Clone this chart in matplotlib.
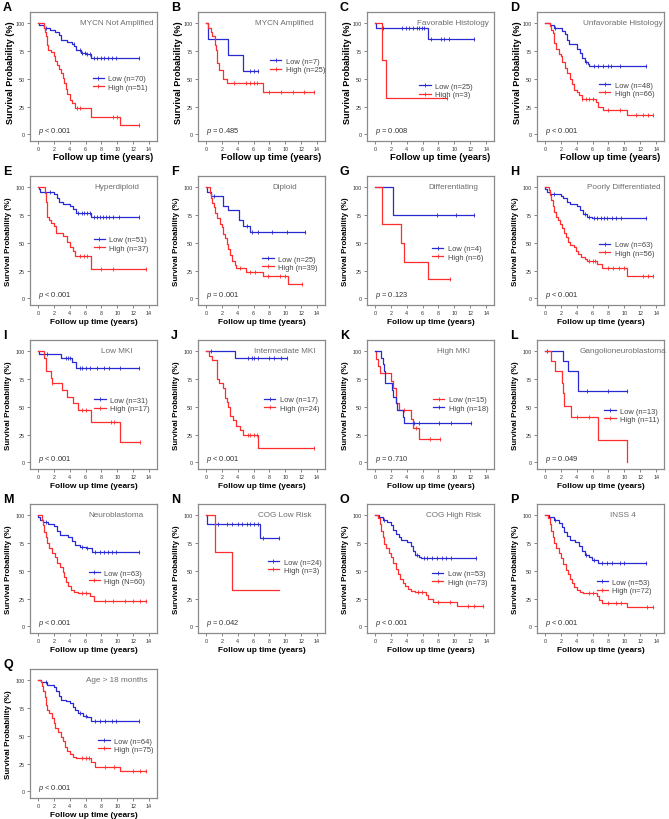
import matplotlib
matplotlib.use("Agg")
import matplotlib.pyplot as plt
import numpy as np
from matplotlib.lines import Line2D

plt.rcParams["font.family"] = ["Liberation Sans", "DejaVu Sans"]
plt.rcParams["mathtext.fontset"] = "custom"
plt.rcParams["mathtext.it"] = "Liberation Sans:italic"
plt.rcParams["mathtext.rm"] = "Liberation Sans"

# Kaplan-Meier step curves: (time in years, survival %) after each drop
a_low = [(0, 100), (0.1, 98), (0.8, 96), (1.5, 94), (2.2, 92), (2.6, 89), (2.9, 85), (3.6, 83), (4.3, 81),
         (4.6, 79), (4.8, 76), (5.4, 73), (6.1, 72), (6.7, 69), (12.7, 69)]
a_low_cens = [1.0, 4.5, 5.3, 5.6, 5.9, 6.2, 6.5, 7.1, 7.5, 7.9, 8.3, 8.8, 9.3, 9.8, 12.7]
a_high = [(0, 100), (0.8, 96), (0.9, 92), (1.0, 88), (1.1, 84), (1.2, 80), (1.3, 76), (1.7, 74), (2.0, 70),
          (2.2, 66), (2.4, 62), (2.6, 59), (2.9, 55), (3.1, 51), (3.3, 46), (3.5, 41), (3.7, 36), (4.0, 31),
          (4.3, 28), (4.7, 24), (6.7, 16), (10.4, 8), (12.7, 8)]
a_high_cens = [4.9, 5.3, 9.5, 9.9, 12.7]

b_low = [(0, 100), (0.25, 86), (2.8, 71), (4.7, 57), (6.6, 57)]
b_low_cens = [5.5, 6.0, 6.6]
b_high = [(0, 100), (0.3, 96), (0.6, 92), (0.8, 88), (1.1, 80), (1.3, 76), (1.4, 64), (1.6, 58), (2.1, 50),
          (2.6, 46), (7.2, 38), (13.6, 38)]
b_high_cens = [3.5, 5.1, 5.6, 6.0, 6.4, 8.0, 9.5, 11.0, 12.3, 13.6]

c_low = [(0, 100), (0.1, 96), (6.7, 86), (12.5, 86)]
c_low_cens = [1.0, 3.4, 3.9, 4.3, 4.8, 5.3, 5.6, 5.9, 6.2, 7.1, 8.3, 8.7, 9.3, 12.5]
c_high = [(0, 100), (0.9, 67), (1.4, 33), (9.1, 33)]
c_high_cens = [9.1]

d_low = [(0, 100), (0.6, 98), (1.2, 96), (2.2, 93), (2.5, 90), (2.8, 85), (3.0, 81), (4.1, 77), (4.4, 73),
         (4.7, 69), (5.0, 65), (5.4, 63), (5.6, 61), (12.7, 61)]
d_low_cens = [1.3, 5.2, 6.2, 6.7, 7.3, 7.9, 8.3, 9.5, 12.7]
d_high = [(0, 100), (0.6, 97), (0.8, 94), (1.0, 91), (1.1, 88), (1.2, 82), (1.4, 77), (1.8, 72), (2.0, 70),
          (2.2, 65), (2.5, 60), (2.8, 55), (3.1, 50), (3.4, 45), (3.7, 40), (4.0, 38), (4.3, 35), (4.7, 32),
          (6.4, 29), (6.7, 25), (7.3, 22), (10.4, 17), (13.6, 17)]
d_high_cens = [4.7, 5.2, 5.6, 6.0, 8.0, 9.5, 11.5, 12.3, 13.0, 13.6]

e_low = [(0, 100), (0.1, 98), (0.3, 96), (2.0, 94), (2.4, 90), (2.7, 87), (3.2, 85), (4.0, 83), (4.4, 80),
         (4.8, 77), (6.7, 73), (12.7, 73)]
e_low_cens = [1.5, 5.0, 5.5, 5.8, 6.2, 6.5, 7.0, 7.4, 7.8, 8.2, 8.6, 9.0, 9.5, 10.2, 12.7]
e_high = [(0, 100), (0.9, 95), (1.0, 87), (1.1, 79), (1.2, 73), (1.4, 70), (1.6, 68), (2.0, 65), (2.3, 59),
          (3.1, 56), (3.6, 51), (4.0, 46), (4.4, 43), (4.7, 38), (6.7, 26), (13.6, 26)]
e_high_cens = [5.3, 5.8, 6.2, 8.0, 9.5, 13.6]

f_low = [(0, 100), (0.1, 96), (0.6, 92), (2.2, 83), (2.8, 79), (4.2, 70), (4.7, 65), (5.6, 60), (12.5, 60)]
f_low_cens = [1.0, 5.2, 5.8, 6.5, 8.3, 10.2, 12.5]
f_high = [(0, 100), (0.5, 95), (0.6, 90), (0.8, 86), (1.0, 82), (1.2, 77), (1.4, 72), (1.8, 67), (2.0, 64),
          (2.2, 58), (2.4, 54), (2.6, 49), (2.8, 44), (3.0, 39), (3.3, 34), (3.6, 30), (3.8, 27), (5.0, 24),
          (7.2, 20), (10.4, 13), (12.1, 13)]
f_high_cens = [4.3, 5.6, 6.2, 7.8, 9.3, 9.9, 12.1]

g_low = [(0, 100), (2.3, 75), (12.5, 75)]
g_low_cens = [7.8, 10.2, 12.5]
g_high = [(0, 100), (0.9, 67), (3.3, 50), (3.6, 33), (6.7, 17), (9.5, 17)]
g_high_cens = [9.5]

h_low = [(0, 100), (0.05, 98), (0.2, 96), (0.6, 94), (2.0, 92), (2.3, 90), (2.8, 87), (3.2, 85), (4.1, 83),
         (4.4, 79), (4.8, 76), (5.3, 73), (5.9, 72), (12.7, 72)]
h_low_cens = [1.2, 5.1, 5.5, 6.2, 6.6, 7.0, 7.4, 7.8, 8.5, 9.0, 9.6, 12.7]
h_high = [(0, 100), (0.5, 97), (0.6, 93), (0.8, 88), (1.0, 83), (1.2, 78), (1.4, 73), (1.6, 70), (1.9, 67),
          (2.1, 63), (2.4, 59), (2.6, 55), (2.9, 51), (3.2, 48), (3.6, 46), (3.9, 43), (4.2, 40), (4.6, 37),
          (5.0, 35), (5.3, 34), (6.6, 31), (7.2, 27), (10.4, 20), (13.6, 20)]
h_high_cens = [5.6, 6.0, 6.3, 8.0, 8.6, 9.3, 9.9, 12.3, 13.0, 13.6]

i_low = [(0, 100), (0.1, 97), (2.9, 94), (4.3, 90), (4.8, 85), (12.7, 85)]
i_low_cens = [1.2, 3.5, 3.8, 4.0, 5.3, 5.6, 6.1, 6.6, 7.4, 8.3, 9.0, 10.4, 12.7]
i_high = [(0, 100), (0.8, 94), (1.0, 82), (1.6, 76), (1.8, 71), (3.0, 65), (3.6, 59), (4.4, 53), (5.0, 47),
          (6.7, 36), (10.4, 18), (12.8, 18)]
i_high_cens = [1.8, 5.5, 6.0, 9.2, 9.6, 12.8]

j_low = [(0, 100), (3.6, 94), (10.2, 94)]
j_low_cens = [0.6, 5.3, 5.8, 6.1, 6.6, 8.0, 8.6, 9.5, 10.2]
j_high = [(0, 100), (0.4, 96), (0.8, 92), (1.4, 75), (1.6, 71), (2.2, 67), (2.4, 58), (2.6, 54), (2.8, 50),
          (3.0, 42), (3.4, 38), (3.8, 33), (4.3, 29), (4.7, 25), (6.6, 13), (13.6, 13)]
j_high_cens = [5.3, 5.6, 6.0, 6.4, 13.6]

k_low = [(0, 100), (0.1, 93), (0.4, 87), (0.6, 80), (2.0, 73), (2.3, 67), (2.6, 60), (2.7, 53), (3.0, 47),
         (4.6, 39), (4.8, 31), (5.6, 21), (8.2, 21)]
k_low_cens = [3.7, 5.2, 6.9, 8.2]
k_high = [(0, 100), (0.8, 94), (1.0, 88), (1.1, 82), (1.3, 71), (2.1, 65), (2.3, 59), (2.6, 53), (2.8, 47),
          (3.5, 41), (3.7, 35), (12.1, 35)]
k_high_cens = [4.9, 5.6, 8.1, 9.6, 12.1]

l_low = [(0, 100), (2.3, 91), (2.9, 82), (4.2, 64), (10.4, 64)]
l_low_cens = [0.2, 5.3, 8.0, 10.4]
l_high = [(0, 100), (0.8, 91), (1.3, 82), (2.2, 71), (2.3, 62), (2.4, 51), (3.3, 41), (6.7, 20), (10.4, 0)]
l_high_cens = [4.0, 5.5]

m_low = [(0, 100), (0.05, 98), (0.2, 96), (0.6, 94), (1.3, 92), (2.0, 90), (2.4, 86), (2.8, 82), (3.8, 80),
         (4.3, 77), (4.7, 73), (5.3, 71), (6.0, 70), (6.8, 67), (12.7, 67)]
m_low_cens = [1.0, 5.5, 6.2, 7.2, 7.8, 8.3, 8.8, 9.3, 9.8, 12.7]
m_high = [(0, 100), (0.5, 96), (0.6, 91), (0.8, 85), (1.0, 80), (1.2, 75), (1.4, 70), (1.8, 66), (2.1, 62),
          (2.4, 57), (2.8, 53), (3.1, 49), (3.3, 44), (3.5, 40), (3.8, 36), (4.2, 33), (4.6, 31), (5.0, 30),
          (6.6, 27), (7.0, 23), (13.6, 23)]
m_high_cens = [5.6, 6.1, 8.5, 9.5, 11.0, 12.0, 12.8, 13.6]

n_low = [(0, 100), (0.1, 92), (6.8, 79), (9.2, 79)]
n_low_cens = [1.5, 2.7, 3.3, 4.0, 4.6, 5.2, 5.6, 6.1, 6.5, 7.2, 9.2]
n_high = [(0, 100), (1.2, 67), (3.3, 33), (9.2, 33)]
n_high_cens = []

o_low = [(0, 100), (0.5, 98), (1.0, 96), (1.5, 94), (2.0, 91), (2.3, 87), (2.7, 83), (3.0, 80), (3.3, 78),
         (4.0, 76), (4.5, 72), (4.8, 68), (5.1, 64), (5.6, 62), (5.8, 61), (12.7, 61)]
o_low_cens = [1.2, 5.3, 6.2, 6.6, 7.2, 7.8, 8.4, 9.0, 9.6, 12.7]
o_high = [(0, 100), (0.4, 97), (0.6, 92), (0.8, 86), (1.0, 80), (1.2, 74), (1.4, 70), (1.8, 66), (2.0, 62),
          (2.3, 57), (2.6, 52), (2.9, 47), (3.2, 43), (3.5, 39), (3.8, 36), (4.2, 34), (4.6, 32), (5.0, 31),
          (6.4, 28), (6.7, 25), (7.3, 22), (10.4, 18), (13.6, 18)]
o_high_cens = [5.4, 5.9, 8.0, 9.5, 11.7, 12.5, 13.6]

p_low = [(0, 100), (0.5, 98), (1.2, 96), (1.8, 93), (2.1, 89), (2.4, 85), (2.8, 81), (3.2, 78), (3.8, 76),
         (4.3, 72), (4.7, 68), (5.0, 64), (5.5, 62), (5.9, 60), (6.7, 57), (12.7, 57)]
p_low_cens = [1.3, 5.2, 6.2, 7.2, 7.8, 8.4, 9.4, 9.9, 12.7]
p_high = [(0, 100), (0.4, 97), (0.6, 92), (0.8, 86), (1.0, 80), (1.2, 75), (1.4, 70), (1.8, 66), (2.0, 61),
          (2.3, 56), (2.6, 51), (2.9, 47), (3.2, 43), (3.4, 39), (3.7, 35), (4.0, 33), (4.4, 31), (4.8, 30),
          (6.5, 27), (6.8, 24), (7.2, 21), (10.4, 17), (13.6, 17)]
p_high_cens = [5.6, 6.0, 8.0, 9.0, 9.6, 12.8, 13.6]

q_low = [(0, 100), (0.4, 98), (1.2, 96), (2.0, 94), (2.3, 90), (2.6, 86), (2.9, 82), (3.5, 81), (4.1, 79),
         (4.4, 76), (4.7, 73), (5.0, 70), (5.7, 68), (6.2, 67), (6.7, 63), (12.7, 63)]
q_low_cens = [1.0, 5.3, 6.0, 7.2, 7.8, 8.4, 9.3, 9.8, 12.7]
q_high = [(0, 100), (0.4, 98), (0.5, 95), (0.7, 90), (0.9, 85), (1.0, 78), (1.2, 73), (1.4, 70), (1.8, 66),
          (2.0, 61), (2.2, 57), (2.5, 53), (2.9, 49), (3.1, 45), (3.4, 40), (3.7, 36), (4.0, 34), (4.4, 31),
          (4.8, 30), (6.7, 26), (7.2, 22), (10.4, 18), (13.6, 18)]
q_high_cens = [5.6, 6.0, 6.4, 8.5, 9.6, 12.0, 12.8, 13.6]

letters = list("ABCDEFGHIJKLMNOPQ")
titles = ["MYCN Not Amplified", "MYCN Amplified", "Favorable Histology", "Unfavorable Histology",
          "Hyperdiploid", "Diploid", "Differentiating", "Poorly Differentiated",
          "Low MKI", "Intermediate MKI", "High MKI", "Gangolioneuroblastoma",
          "Neuroblastoma", "COG Low Risk", "COG High Risk", "INSS 4", "Age > 18 months"]
low_labels = ["Low (n=70)", "Low (n=7)", "Low (n=25)", "Low (n=48)", "Low (n=51)", "Low (n=25)",
              "Low (n=4)", "Low (n=63)", "Low (n=31)", "Low (n=17)", "Low (n=15)", "Low (n=13)",
              "Low (n=63)", "Low (n=24)", "Low (n=53)", "Low (n=53)", "Low (n=64)"]
high_labels = ["High (n=51)", "High (n=25)", "High (n=3)", "High (n=66)", "High (n=37)", "High (n=39)",
               "High (n=6)", "High (n=56)", "High (n=17)", "High (n=24)", "High (n=18)", "High (n=11)",
               "High (N=60)", "High (n=3)", "High (n=73)", "High (n=72)", "High (n=75)"]
p_values = ["< 0.001", "= 0.485", "= 0.008", "< 0.001", "< 0.001", "= 0.001", "= 0.123", "< 0.001",
            "< 0.001", "< 0.001", "= 0.710", "= 0.049", "< 0.001", "= 0.042", "< 0.001", "< 0.001",
            "< 0.001"]
curves = [(a_low, a_low_cens, a_high, a_high_cens), (b_low, b_low_cens, b_high, b_high_cens),
          (c_low, c_low_cens, c_high, c_high_cens), (d_low, d_low_cens, d_high, d_high_cens),
          (e_low, e_low_cens, e_high, e_high_cens), (f_low, f_low_cens, f_high, f_high_cens),
          (g_low, g_low_cens, g_high, g_high_cens), (h_low, h_low_cens, h_high, h_high_cens),
          (i_low, i_low_cens, i_high, i_high_cens), (j_low, j_low_cens, j_high, j_high_cens),
          (k_low, k_low_cens, k_high, k_high_cens), (l_low, l_low_cens, l_high, l_high_cens),
          (m_low, m_low_cens, m_high, m_high_cens), (n_low, n_low_cens, n_high, n_high_cens),
          (o_low, o_low_cens, o_high, o_high_cens), (p_low, p_low_cens, p_high, p_high_cens),
          (q_low, q_low_cens, q_high, q_high_cens)]

# legend anchor per panel: (x of line start in years, y of the Low entry in %, y of the High entry in %)
legend_pos = [(6.9, 50.6, 42), (8.1, 66, 58), (5.6, 44, 35), (6.8, 45, 36), (7.0, 53, 45), (7.1, 36, 27),
              (7.2, 45, 37), (6.8, 49, 40), (7.1, 56, 48), (7.3, 57, 48), (7.3, 57, 48), (7.5, 47, 38),
              (6.4, 48.5, 40), (7.8, 58, 50), (7.2, 48, 39), (6.5, 40.3, 31.5), (7.6, 46, 37)]

BLUE = "#2a2ad2"
RED = "#ff2d2d"
W, H = 669, 820
col_left = [30, 198, 367, 537]
row_top = [13, 177, 341, 505, 670]
AX_W, AX_H = 127, 129
XMIN, XMAX, YMIN, YMAX = -1, 15, -6, 110


def draw_km(ax, pts, cens, color):
    t = np.array([p[0] for p in pts])
    s = np.array([p[1] for p in pts])
    ax.step(t, s, where="post", color=color, lw=0.9)
    if cens:
        c = np.array(cens)
        idx = np.searchsorted(t, c, side="right") - 1
        ax.plot(c, s[idx], ls="none", marker="|", ms=2.6, mew=0.6, color=color)


fig = plt.figure(figsize=(W / 100, H / 100), dpi=100)

for i, letter in enumerate(letters):
    r, cidx = divmod(i, 4)
    left, top = col_left[cidx], row_top[r]
    ax = fig.add_axes([left / W, 1 - (top + AX_H) / H, AX_W / W, AX_H / H])
    low, low_c, high, high_c = curves[i]
    low_col, high_col = (RED, BLUE) if letter == "K" else (BLUE, RED)
    draw_km(ax, low, low_c, low_col)
    draw_km(ax, high, high_c, high_col)

    ax.set_xlim(XMIN, XMAX)
    ax.set_ylim(YMIN, YMAX)
    ax.set_xticks(range(0, 15, 2))
    ax.set_yticks([0, 25, 50, 75, 100])
    ax.tick_params(labelsize=3.9, length=2, width=0.5, pad=1.5, colors="#555555", labelcolor="#333333")
    for sp in ax.spines.values():
        sp.set_color("#8a8a8a")
        sp.set_linewidth(0.9)

    # the first row of panels carries slightly larger axis titles
    if r == 0:
        ax.set_xlabel("Follow up time (years)", fontsize=6.8, fontweight="bold")
        ax.set_ylabel("Survival Probability (%)", fontsize=6.6, fontweight="bold")
        ax.xaxis.set_label_coords(0.575, -0.118, transform=ax.transAxes)
        ax.xaxis.label.set_va("center")
        ax.yaxis.set_label_coords(-0.12, 0.54, transform=ax.transAxes)
    else:
        ax.set_xlabel("Follow up time (years)", fontsize=5.95, fontweight="bold", labelpad=2)
        ax.set_ylabel("Survival Probability (%)", fontsize=5.7, fontweight="bold", labelpad=3)

    ax.text(0.68, 0.92, titles[i], transform=ax.transAxes, ha="center", va="center",
            fontsize=5.9, color="#6e6e6e")
    ax.text(0.065, 0.085, r"$\mathit{p}$ " + p_values[i], transform=ax.transAxes, ha="left",
            va="center", fontsize=5.4, color="#333333")

    lx, ly_low, ly_high = legend_pos[i]
    handles = [Line2D([0], [0], color=low_col, lw=0.9, marker="|", ms=2.6, mew=0.6),
               Line2D([0], [0], color=high_col, lw=0.9, marker="|", ms=2.6, mew=0.6)]
    ax.legend(handles, [low_labels[i], high_labels[i]], loc="center left",
              bbox_to_anchor=(lx, (ly_low + ly_high) / 2), bbox_transform=ax.transData,
              frameon=False, fontsize=5.4, numpoints=1, handlelength=1.5, handletextpad=0.6,
              labelspacing=0.15, borderpad=0, borderaxespad=0, labelcolor="#444444")

    fig.text((left - 27) / W, 1 - (top - 5) / H, letter, fontsize=9, fontweight="bold",
             ha="left", va="center")

fig.savefig("out.png", dpi=100)
